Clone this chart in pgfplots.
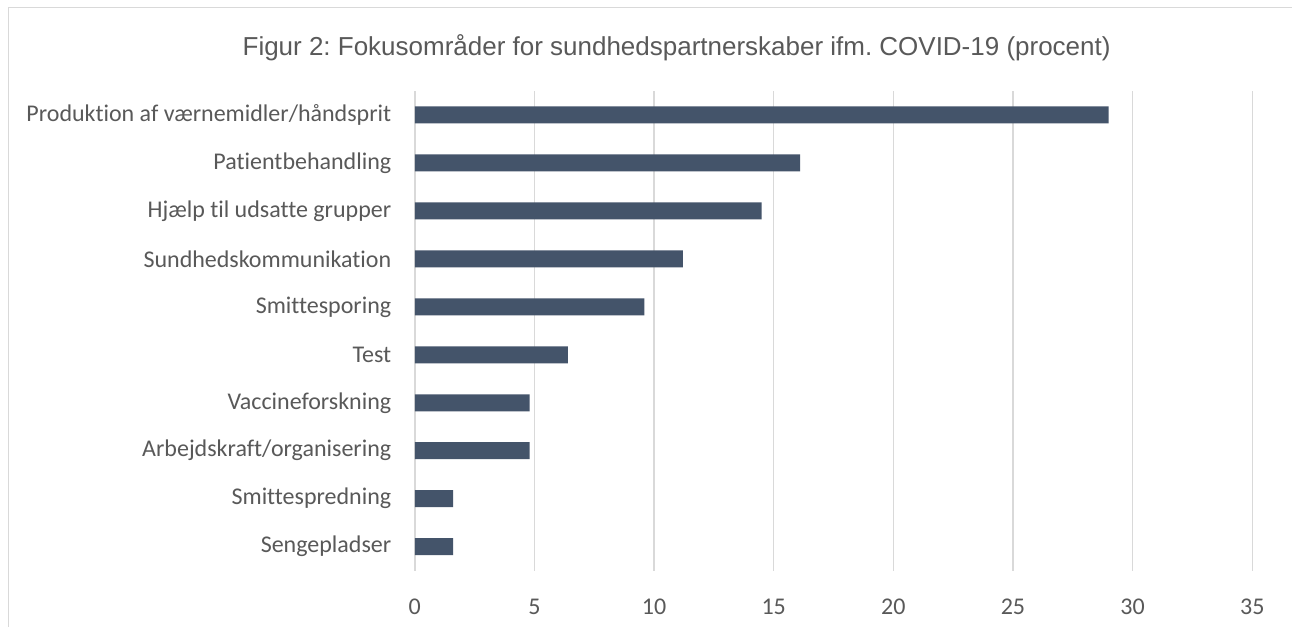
\documentclass[border=0pt]{standalone}
\usepackage{pgfplots}
\pgfplotsset{compat=1.18}
\usepackage{fontspec}
\setmainfont{Carlito}[Ligatures={NoCommon,NoContextual}]
\newfontfamily\titlefont{Liberation Sans}
\definecolor{barc}{HTML}{44546A}
\definecolor{txt}{HTML}{595959}
\definecolor{gridc}{HTML}{D9D9D9}
\frenchspacing
\begin{document}
\begin{tikzpicture}[x=1pt,y=1pt]
\path[fill=white] (0,0) rectangle (1293,627);
\draw[gridc, line width=1.5pt] (8.5,0) -- (8.5,619.5) -- (1293,619.5);
\node[font=\titlefont\fontsize{26}{30}\selectfont, text=txt] at (677,579) {Figur 2: Fokusområder for sundhedspartnerskaber ifm. COVID-19 (procent)};
\begin{axis}[
  at={(415pt,56pt)}, anchor=south west,
  scale only axis, width=838pt, height=480pt,
  xbar, bar width=17pt,
  xmin=0, xmax=35, xtick={0,5,...,35},
  ymin=-0.5, ymax=9.5, ytick={0,...,9},
  yticklabels={Sengepladser,Smittespredning,Arbejdskraft/organisering,Vaccineforskning,Test,Smittesporing,Sundhedskommunikation,Hjælp til udsatte grupper,Patientbehandling,Produktion af værnemidler/håndsprit},
  axis line style={draw=none},
  major tick length=0pt,
  xmajorgrids, ymajorgrids=false,
  major grid style={draw=gridc, line width=1.5pt},
  tick label style={text=txt},
  yticklabel style={font=\fontsize{24}{28}\selectfont, xshift=-20pt},
  xticklabel style={font=\fontsize{24}{28}\selectfont, yshift=-25pt},
  /pgf/number format/assume math mode=true,
  clip=false,
]
\addplot[fill=barc, draw=none] coordinates {
(1.6,0) (1.6,1) (4.8,2) (4.8,3) (6.4,4) (9.6,5) (11.2,6) (14.5,7) (16.1,8) (29.0,9)
};
\end{axis}
\end{tikzpicture}
\end{document}
